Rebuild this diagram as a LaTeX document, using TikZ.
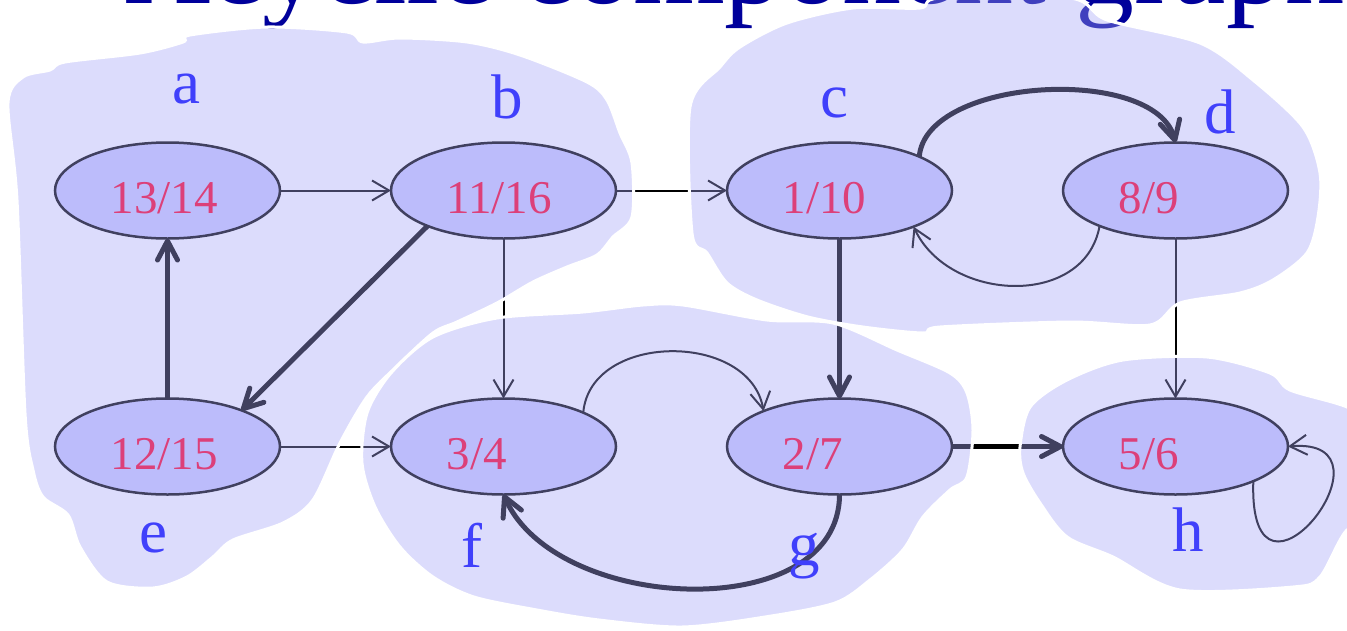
\documentclass[tikz,border=0pt]{standalone}
\usepackage{fontspec}
\setmainfont{Liberation Serif}
\usetikzlibrary{arrows.meta,positioning,shapes.geometric}
\definecolor{titleblue}{RGB}{0,0,155}
\definecolor{letterblue}{RGB}{0,0,255}
\definecolor{stampred}{RGB}{255,0,42}
\definecolor{vertexfill}{RGB}{204,204,255}
\definecolor{blobfill}{RGB}{165,165,247}
\newcommand{\stamp}[1]{\raisebox{-23pt}[0pt][0pt]{\makebox[0pt][l]{\hspace{-57pt}#1}}}
\tikzset{
  vertex/.style={ellipse,draw=black,line width=2.5pt,fill=vertexfill,
    minimum width=225pt,minimum height=96pt,inner sep=0pt,outer sep=0pt,
    font=\fontsize{47pt}{50pt}\selectfont,text=stampred},
  letter/.style={anchor=base,inner sep=0pt,text=letterblue,
    font=\fontsize{63pt}{66pt}\selectfont},
  thickedge/.style={line width=5pt,-{Straight Barb[length=19pt,width=20pt,round]}},
  thinedge/.style={line width=2pt,-{Straight Barb[length=17pt,width=20pt]}},
  blob/.style={draw=white,line width=3pt,fill=blobfill,fill opacity=0.39},
}
\begin{document}
\begin{tikzpicture}[x=1pt,y=1pt,node distance=160pt and 111pt]
  \useasboundingbox (0,0) rectangle (1347,-630);
  \clip (0,0) rectangle (1347,-630);
  % title, cut by the top edge
  \node[anchor=base west,inner sep=0pt,text=titleblue,
    font=\fontsize{118pt}{120pt}\selectfont] (title) at (125,-3) {Acyclic component graph};
  % vertices
  \node[vertex] (a) at (167.5,-190.5) {\stamp{13/14}};
  \node[vertex,right=of a] (b) {\stamp{11/16}};
  \node[vertex,right=of b] (c) {\stamp{1/10}};
  \node[vertex,right=of c] (d) {\stamp{8/9}};
  \node[vertex,below=of a] (e) {\stamp{12/15}};
  \node[vertex,right=of e] (f) {\stamp{3/4}};
  \node[vertex,right=of f] (g) {\stamp{2/7}};
  \node[vertex,right=of g] (h) {\stamp{5/6}};
  % edges
  \draw[thinedge] (a) -- (b);
  \draw[thinedge] (b) -- (c);
  \draw[thinedge] (b) -- (f);
  \draw[thinedge] (e) -- (f);
  \draw[thinedge] (d) -- (h);
  \draw[thickedge] (e) -- (a);
  \draw[thickedge] (c) -- (g);
  \draw[thickedge] (g) -- (h);
  \draw[thickedge] (b.205) -- (e.26);
  \draw[thickedge] (c.23) to[out=85,in=105,looseness=0.8] (d.north);
  \draw[thinedge] (d.205) to[out=-100,in=-65,looseness=1.15] (c.334);
  \draw[thinedge] (f.23) to[out=85,in=100,looseness=1.15] (g.155);
  \draw[thickedge] (g.south) to[out=-90,in=-66] (f.south);
  \draw[thinedge] (h.336) .. controls +(-92:158) and +(5:120) .. (h.east);
  % vertex names
  \node[letter] (la) at (186,-103) {a};
  \node[letter] (lb) at (507,-118) {b};
  \node[letter] (lc) at (834.5,-117) {c};
  \node[letter] (ld) at (1220,-133) {d};
  \node[letter] (le) at (153,-552) {e};
  \node[letter] (lf) at (472,-567) {f};
  \node[letter] (lg) at (804,-565) {g};
  \node[letter] (lh) at (1188,-551) {h};
  % components
  \draw[blob] plot[smooth cycle,tension=0.5] coordinates {
    (8,-103) (23,-77) (50,-70) (65,-62) (140,-53) (183,-42) (190,-35) (267,-27)
    (347,-32) (363,-42) (400,-38) (467,-42) (520,-55) (587,-82) (607,-100)
    (620,-133) (632,-163) (632,-217) (613,-237) (597,-255) (567,-267) (533,-282)
    (497,-303) (457,-322) (433,-333) (395,-368) (367,-397) (340,-443) (313,-500)
    (283,-523) (233,-540) (213,-557) (187,-577) (153,-588) (107,-582) (80,-547)
    (68,-515) (43,-497) (33,-470) (25,-413) (17,-200)};
  \draw[blob] plot[smooth cycle,tension=0.5] coordinates {
    (690,-107) (720,-67) (740,-47) (787,-23) (853,-8) (920,-8) (940,2) (1070,2)
    (1107,-20) (1200,-43) (1253,-80) (1303,-127) (1320,-173) (1318,-217)
    (1307,-253) (1273,-280) (1240,-293) (1180,-303) (1150,-325) (1070,-322)
    (940,-327) (923,-333) (863,-327) (808,-317) (757,-300) (727,-283) (707,-253)
    (692,-233)};
  \draw[blob] plot[smooth cycle,tension=0.5] coordinates {
    (433,-337) (497,-318) (583,-312) (643,-305) (683,-305) (767,-320) (833,-323)
    (897,-350) (950,-373) (967,-393) (973,-430) (967,-477) (950,-490) (923,-517)
    (903,-550) (870,-580) (835,-603) (765,-617) (682,-627) (599,-620) (537,-610)
    (474,-597) (433,-577) (400,-547) (375,-507) (362,-463) (367,-413) (391,-373)};
  \draw[blob] plot[smooth cycle,tension=0.5] coordinates {
    (1020,-447) (1030,-407) (1067,-380) (1123,-360) (1207,-357) (1270,-373)
    (1290,-390) (1347,-407) (1380,-430) (1380,-520) (1347,-530) (1320,-577)
    (1293,-587) (1180,-590) (1113,-557) (1067,-537) (1040,-503) (1023,-473)};
\end{tikzpicture}
\end{document}
